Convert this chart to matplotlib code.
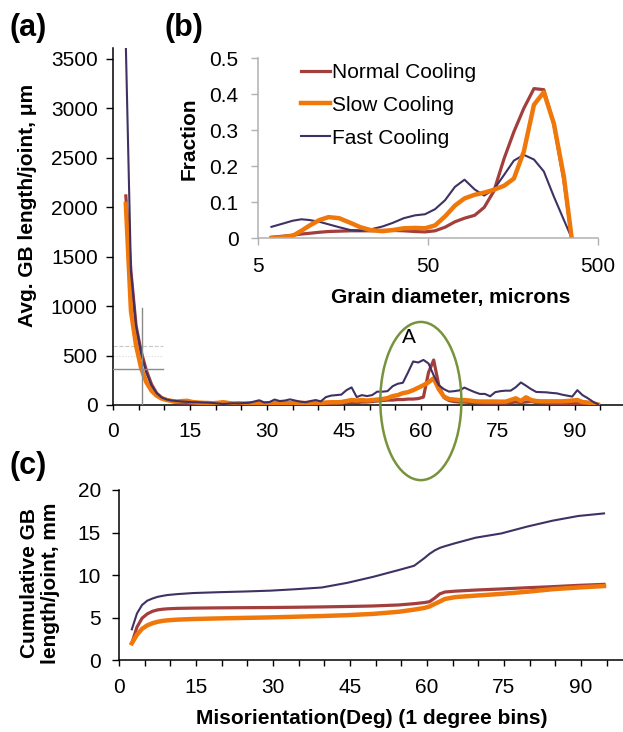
import numpy as np
import matplotlib
matplotlib.use("Agg")
import matplotlib.pyplot as plt
from matplotlib.patches import Ellipse
from matplotlib.lines import Line2D

plt.rcParams['font.family'] = ['Liberation Sans', 'DejaVu Sans']

# colours of the three cooling rates
c_normal = '#A23E3C'
c_slow = '#F0780A'
c_fast = '#3F3163'

# (a) average GB length per joint vs misorientation, 1 degree bins
mis = np.arange(2.5, 95, 1.0)
gb_fast = [3640, 1350, 800, 520, 330, 200, 120, 75, 55, 45, 40, 35, 32, 28, 28, 25, 24, 20,
           15, 10, 14, 18, 16, 20, 22, 35, 48, 25, 30, 55, 40, 45, 57, 45, 34, 28, 40, 50,
           37, 80, 95, 100, 105, 150, 178, 80, 100, 90, 100, 135, 135, 140, 190, 215, 225,
           330, 440, 430, 456, 420, 300, 200, 160, 135, 140, 148, 176, 152, 130, 112, 112,
           88, 130, 140, 145, 145, 180, 228, 195, 160, 132, 130, 128, 122, 118, 105, 95,
           85, 150, 100, 70, 35, 8]
gb_normal = [2115, 1350, 800, 540, 350, 210, 120, 75, 55, 35, 25, 20, 18, 15, 15, 12, 12, 10,
             10, 10, 10, 10, 10, 10, 10, 10, 12, 12, 12, 12, 12, 15, 15, 15, 15, 15, 15, 15,
             15, 18, 18, 20, 20, 25, 25, 25, 30, 30, 35, 40, 45, 50, 50, 55, 55, 60, 60, 65,
             80, 330, 455, 200, 75, 45, 35, 30, 30, 25, 25, 22, 20, 20, 20, 20, 20, 25, 30,
             25, 30, 35, 25, 22, 20, 18, 18, 15, 15, 15, 15, 12, 10, 8, 5]
gb_slow = [2034, 950, 600, 370, 230, 145, 95, 65, 50, 40, 35, 40, 42, 30, 25, 22, 20, 18,
           22, 28, 20, 15, 18, 15, 18, 15, 20, 18, 15, 18, 20, 18, 20, 20, 22, 20, 22, 25,
           20, 25, 28, 28, 30, 40, 50, 45, 50, 45, 50, 55, 60, 70, 90, 100, 120, 130, 150,
           175, 200, 230, 270, 160, 85, 60, 55, 50, 50, 45, 38, 35, 35, 35, 35, 34, 34, 50,
           68, 40, 78, 50, 40, 37, 37, 37, 37, 37, 40, 45, 50, 30, 25, 15, 5]

# (b) grain size distribution
diam = [6, 7, 8, 9, 10, 11.5, 13, 15, 17.5, 20, 23, 27, 31, 36, 42, 48, 55, 63, 72, 82,
        94, 107, 122, 140, 160, 183, 210, 240, 275, 315, 350]
frac_normal = [0.002, 0.005, 0.008, 0.011, 0.013, 0.016, 0.018, 0.019, 0.020, 0.020,
               0.020, 0.021, 0.021, 0.020, 0.018, 0.017, 0.020, 0.030, 0.045, 0.055,
               0.063, 0.085, 0.130, 0.220, 0.295, 0.360, 0.415, 0.412, 0.315, 0.160, 0.0]
frac_slow = [0.0, 0.002, 0.006, 0.020, 0.034, 0.050, 0.058, 0.055, 0.042, 0.030, 0.022,
             0.019, 0.022, 0.027, 0.028, 0.027, 0.035, 0.060, 0.090, 0.110, 0.120, 0.126,
             0.134, 0.145, 0.165, 0.240, 0.370, 0.405, 0.318, 0.170, 0.0]
frac_fast = [0.031, 0.040, 0.048, 0.052, 0.050, 0.045, 0.038, 0.030, 0.022, 0.020, 0.024,
             0.032, 0.042, 0.055, 0.063, 0.066, 0.080, 0.105, 0.142, 0.162, 0.135, 0.118,
             0.135, 0.175, 0.215, 0.231, 0.218, 0.185, 0.115, 0.050, 0.0]

# (c) cumulative GB length per joint
mis_cum = [2.5, 3.5, 4.5, 5.5, 6.5, 7.5, 8.5, 9.5, 11.5, 14.5, 19.5, 24.5, 29.5, 34.5, 39.5,
           44.5, 49.5, 54.5, 57.5, 59.5, 60.5, 61.5, 62.5, 63.5, 65.5, 69.5, 74.5, 79.5,
           84.5, 89.5, 94.5]
cum_fast = [3.64, 5.5, 6.5, 7.0, 7.25, 7.45, 7.57, 7.67, 7.78, 7.9, 8.0, 8.08, 8.18, 8.35,
            8.55, 9.1, 9.8, 10.6, 11.1, 12.0, 12.5, 12.9, 13.2, 13.4, 13.75, 14.4, 14.9,
            15.7, 16.4, 16.95, 17.25]
cum_normal = [2.0, 3.9, 4.95, 5.45, 5.75, 5.92, 6.0, 6.05, 6.1, 6.13, 6.16, 6.18, 6.2, 6.23,
              6.27, 6.32, 6.38, 6.5, 6.65, 6.78, 6.88, 7.3, 7.8, 8.02, 8.12, 8.25, 8.38,
              8.52, 8.65, 8.8, 8.92]
cum_slow = [2.0, 3.0, 3.7, 4.1, 4.35, 4.52, 4.63, 4.7, 4.78, 4.85, 4.92, 4.98, 5.04, 5.12,
            5.2, 5.3, 5.45, 5.7, 5.95, 6.15, 6.32, 6.62, 6.9, 7.2, 7.42, 7.6, 7.8, 8.05,
            8.35, 8.55, 8.72]

labels = ['Normal Cooling', 'Slow Cooling', 'Fast Cooling']

W, H = 623, 732
fig = plt.figure(figsize=(W / 100, H / 100), dpi=100)


def box(l, t, r, b):
    return [l / W, 1 - b / H, (r - l) / W, (b - t) / H]


def style_axes(ax, color='black', xlen=3, ylen=5, xpad=4, ypad=6):
    for s in ['top', 'right']:
        ax.spines[s].set_visible(False)
    for s in ['left', 'bottom']:
        ax.spines[s].set_color(color)
        ax.spines[s].set_linewidth(1.1)
    ax.tick_params(axis='x', which='both', direction='out', length=xlen, width=1,
                   color=color, labelsize=15, pad=xpad)
    ax.tick_params(axis='y', which='both', direction='out', length=ylen, width=1,
                   color=color, labelsize=15, pad=ypad)


# ---- panel (a)
ax_a = fig.add_axes(box(113, 48, 623, 405))
ax_a.plot(mis, gb_normal, color=c_normal, lw=2.3, zorder=3)
ax_a.plot(mis, gb_slow, color=c_slow, lw=3.2, zorder=4)
ax_a.plot(mis, gb_fast, color=c_fast, lw=1.5, zorder=5)
ax_a.set_xlim(0, 99.4)
ax_a.set_ylim(0, 3611)
ax_a.set_xticks(range(0, 91, 15))
ax_a.set_xticks(range(0, 96, 5), minor=True)
ax_a.set_yticks(range(0, 3501, 500))
style_axes(ax_a, xlen=3.5, ylen=5, xpad=8.5, ypad=6)

# guide marks near the origin
ax_a.plot([5.7, 5.7], [0, 980], color='#8a8a8a', lw=1, zorder=6)
ax_a.plot([0, 9.8], [361, 361], color='#8a8a8a', lw=1, zorder=6)
ax_a.plot([0, 9.8], [594, 594], color='#c8c8c8', lw=0.8, ls='--', zorder=2)
ax_a.plot([0, 9.8], [500, 500], color='#d8d8d8', lw=0.8, ls=':', zorder=2)

ax_a.add_patch(Ellipse((60, 40), width=15.8, height=1600, fill=False,
                       edgecolor='#77933C', lw=1.8, clip_on=False, zorder=7))
ax_a.text(57.7, 680, 'A', fontsize=15, ha='center', va='center')

# ---- panel (b) inset
ax_b = fig.add_axes(box(258, 58, 598, 238))
ax_b.set_facecolor('none')
ax_b.plot(diam, frac_normal, color=c_normal, lw=2.3)
ax_b.plot(diam, frac_fast, color=c_fast, lw=1.5)
ax_b.plot(diam, frac_slow, color=c_slow, lw=3.2)
ax_b.set_xscale('log')
ax_b.set_xlim(5, 500)
ax_b.set_ylim(0, 0.5)
ax_b.set_xticks([5, 50, 500])
ax_b.set_xticklabels(['5', '50', '500'])
ax_b.xaxis.set_minor_locator(matplotlib.ticker.NullLocator())
ax_b.set_yticks([0, 0.1, 0.2, 0.3, 0.4, 0.5])
ax_b.set_yticklabels(['0', '0.1', '0.2', '0.3', '0.4', '0.5'])
style_axes(ax_b, color='#b0b0b0', xlen=5, ylen=5, xpad=9, ypad=9)

handles = [Line2D([], [], color=c_normal, lw=2.3),
           Line2D([], [], color=c_slow, lw=3.2),
           Line2D([], [], color=c_fast, lw=1.5)]
ax_b.legend(handles, labels, loc='upper left', bbox_to_anchor=(301 / W, 1 - 63 / H),
            bbox_transform=fig.transFigure, frameon=False, fontsize=15,
            handlelength=1.4, handletextpad=0.1, labelspacing=0.66,
            borderpad=0, borderaxespad=0)

# ---- panel (c)
ax_c = fig.add_axes(box(119, 490, 623, 660.3))
ax_c.plot(mis_cum, cum_fast, color=c_fast, lw=1.5)
ax_c.plot(mis_cum, cum_normal, color=c_normal, lw=2.3)
ax_c.plot(mis_cum, cum_slow, color=c_slow, lw=3.2)
ax_c.set_xlim(0, 98.2)
ax_c.set_ylim(0, 20)
ax_c.set_xticks(range(0, 91, 15))
ax_c.set_xticks(range(0, 96, 5), minor=True)
ax_c.set_yticks(range(0, 21, 5))
style_axes(ax_c, xlen=4, ylen=5, xpad=9, ypad=8)

# ---- labels
fig.text(10 / W, 1 - 28 / H, '(a)', fontsize=22, weight='bold', va='center')
fig.text(164 / W, 1 - 28 / H, '(b)', fontsize=22, weight='bold', va='center')
fig.text(10 / W, 1 - 466 / H, '(c)', fontsize=22, weight='bold', va='center')
fig.text(28 / W, 1 - 205 / H, 'Avg. GB length/joint, μm', rotation=90,
         ha='center', va='center', fontsize=15, weight='bold')
fig.text(189 / W, 1 - 139 / H, 'Fraction', rotation=90,
         ha='center', va='center', fontsize=15, weight='bold')
fig.text(451 / W, 1 - 297 / H, 'Grain diameter, microns',
         ha='center', va='center', fontsize=15, weight='bold')
fig.text(40 / W, 1 - 583 / H, 'Cumulative GB\nlength/joint, mm', rotation=90,
         ha='center', va='center', fontsize=15, weight='bold', linespacing=1.1)
fig.text(372 / W, 1 - 718 / H, 'Misorientation(Deg) (1 degree bins)',
         ha='center', va='center', fontsize=15, weight='bold')

fig.savefig('out.png', dpi=100)
